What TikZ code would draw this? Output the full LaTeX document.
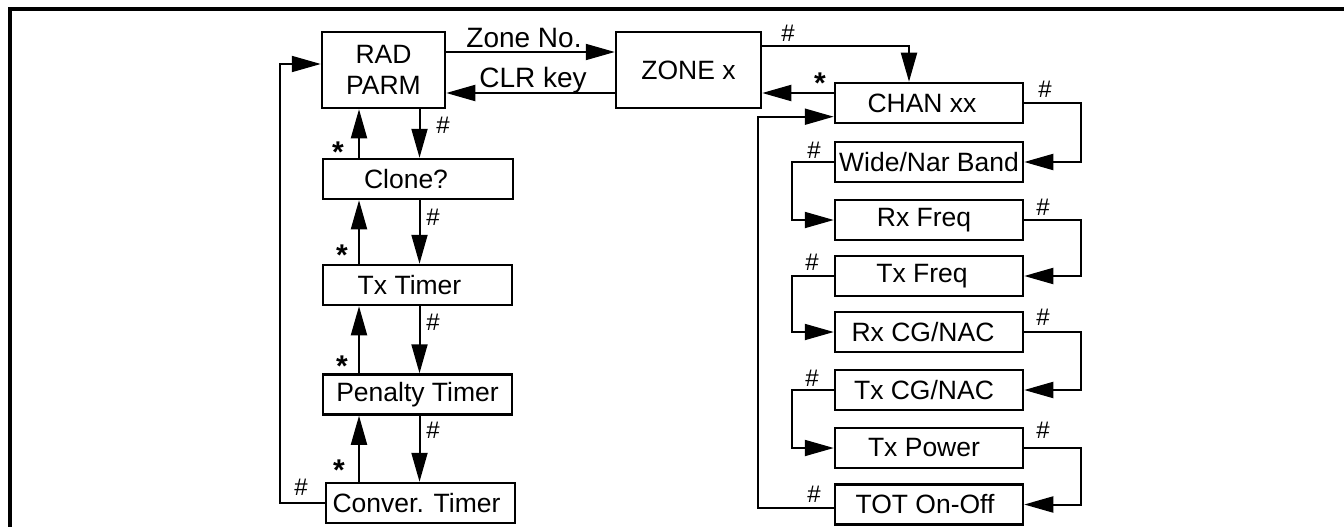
\documentclass[tikz,border=0pt]{standalone}
\usepackage{fontspec}
\setmainfont{Liberation Sans}
\usetikzlibrary{arrows.meta}
\begin{document}
\begin{tikzpicture}[x=1pt,y=-1pt,
  box/.style={draw, line width=2.5pt, inner sep=0pt, minimum height=40pt,
    font=\fontsize{26.5}{31}\selectfont},
  conn/.style={line width=2pt, -{Triangle[length=29pt,width=16pt]}},
  lbl/.style={font=\fontsize{28}{30}\selectfont, inner sep=0pt},
  hsh/.style={font=\fontsize{24}{26}\selectfont, inner sep=0pt},
  ast/.style={font=\bfseries\fontsize{30}{34}\selectfont, inner sep=0pt},
  frame/.style={line width=4pt}
]
\useasboundingbox (0,0) rectangle (1344,527);
\draw[frame] (10,527) -- (10,9) -- (1344,9);

% left column
\node[box, minimum width=123pt, minimum height=76pt, align=center] (rad) at (383.5,70) {RAD\\PARM};
\node[box, minimum width=145pt, minimum height=76pt] (zone) at (688.5,70) {ZONE x};
\node[box, minimum width=190pt] (clone) at (418,179) {\kern-24pt Clone?};
\node[box, minimum width=189pt] (txtimer) at (417.5,285) {\kern-16pt Tx Timer};
\node[box, minimum width=189pt] (penalty) at (417.5,394.5) {Penalty Timer};
\node[box, minimum width=189pt] (conver) at (420.5,503) {\kern-8pt Conver. Timer};

% right column
\node[box, minimum width=188pt] (chan) at (929,103) {\kern-14pt CHAN xx};
\node[box, minimum width=188pt] (wide) at (929,162) {Wide/Nar Band};
\node[box, minimum width=188pt] (rxf) at (929,220) {\kern-10pt Rx Freq};
\node[box, minimum width=188pt] (txf) at (929,276) {\kern-14pt Tx Freq};
\node[box, minimum width=188pt] (rxcg) at (929,332) {\kern-12pt Rx CG/NAC};
\node[box, minimum width=188pt] (txcg) at (929,390) {\kern-10pt Tx CG/NAC};
\node[box, minimum width=188pt] (txpow) at (929,448) {\kern-10pt Tx Power};
\node[box, minimum width=188pt] (tot) at (929,504.5) {\kern-8pt TOT On-Off};

% helper columns
\coordinate (dn) at (419.5,0);
\coordinate (up) at (359,0);
\coordinate (lx) at (279.5,0);
\coordinate (rx) at (1081,0);
\coordinate (llx) at (791.5,0);
\coordinate (lcx) at (757.7,0);
\coordinate (totw) at ([yshift=-3pt]tot.west);

% top connectors
\draw[conn] ([yshift=18pt]rad.east) -- ([yshift=18pt]rad.east -| zone.west);
\draw[conn] ([yshift=-23pt]zone.west) -- ([yshift=-23pt]zone.west -| rad.east);
\node[lbl] (lzone) at (524,38) {Zone No.};
\node[lbl] (lclr) at (533,80) {CLR key};

% left column verticals
\draw[conn] (dn |- rad.south) -- (dn |- clone.north);
\draw[conn] (up |- clone.north) -- (up |- rad.south);
\draw[conn] (dn |- clone.south) -- (dn |- txtimer.north);
\draw[conn] (up |- txtimer.north) -- (up |- clone.south);
\draw[conn] (dn |- txtimer.south) -- (dn |- penalty.north);
\draw[conn] (up |- penalty.north) -- (up |- txtimer.south);
\draw[conn] (dn |- penalty.south) -- (dn |- conver.north);
\draw[conn] (up |- conver.north) -- (up |- penalty.south);
\draw[conn] (conver.west) -- (lx |- conver.west) |- ([yshift=6pt]rad.west);

\node[hsh] (h1) at (443,125) {\#};
\node[hsh] (h2) at (433,217) {\#};
\node[hsh] (h3) at (433,322) {\#};
\node[hsh] (h4) at (433,430) {\#};
\node[hsh] (h5) at (301,487) {\#};
\node[ast] (a1) at (338,152) {*};
\node[ast] (a2) at (342,255) {*};
\node[ast] (a3) at (342,366) {*};
\node[ast] (a4) at (339,470) {*};

% zone / chan
\draw[conn] ([yshift=24pt]zone.east) -| ([xshift=-20pt]chan.north);
\draw[conn] ([yshift=10pt]chan.west) -- ([yshift=10pt]chan.west -| zone.east);
\node[hsh] (h6) at (788,33) {\#};
\node[ast] (a5) at (820,83) {*};

% right loops
\draw[conn] (chan.east) -- (rx |- chan.east) |- (wide.east);
\draw[conn] (rxf.east) -- (rx |- rxf.east) |- (txf.east);
\draw[conn] (rxcg.east) -- (rx |- rxcg.east) |- (txcg.east);
\draw[conn] (txpow.east) -- (rx |- txpow.east) |- (tot.east);
\node[hsh] (h7) at (1045,89) {\#};
\node[hsh] (h8) at (1043,207) {\#};
\node[hsh] (h9) at (1043,317) {\#};
\node[hsh] (h10) at (1043,430) {\#};

% left loops
\draw[conn] (wide.west) -- (llx |- wide.west) |- (rxf.west);
\draw[conn] (txf.west) -- (llx |- txf.west) |- (rxcg.west);
\draw[conn] (txcg.west) -- (llx |- txcg.west) |- (txpow.west);
\draw[conn] (totw) -- (lcx |- totw) |- ([yshift=-13.7pt]chan.west);
\node[hsh] (h11) at (814,150) {\#};
\node[hsh] (h12) at (812,262) {\#};
\node[hsh] (h13) at (812,378) {\#};
\node[hsh] (h14) at (814,494) {\#};
\end{tikzpicture}
\end{document}
